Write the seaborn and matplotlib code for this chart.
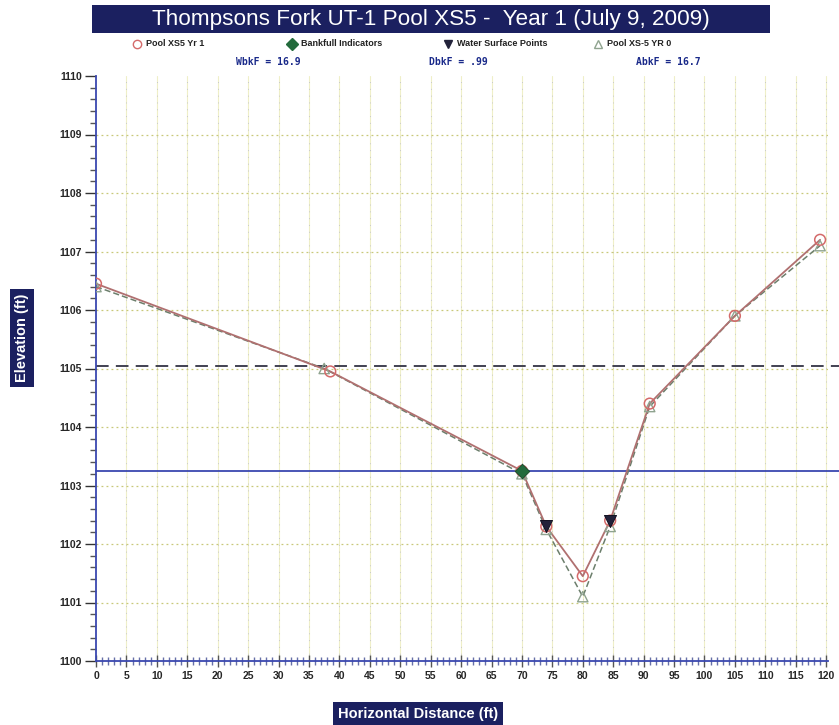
import matplotlib
matplotlib.use("Agg")
import matplotlib.pyplot as plt
from matplotlib.patches import Rectangle
from matplotlib.lines import Line2D
from matplotlib.ticker import MultipleLocator
import seaborn as sns
import pandas as pd

# ---- data ----
x_yr1 = [0, 38.5, 70, 74, 80, 84.5, 91, 105, 119]
z_yr1 = [1106.45, 1104.95, 1103.25, 1102.3, 1101.45, 1102.4, 1104.4, 1105.9, 1107.2]
x_yr0 = [0, 37.5, 70, 74, 80, 84.5, 91, 105, 119]
z_yr0 = [1106.4, 1105.0, 1103.2, 1102.25, 1101.1, 1102.3, 1104.35, 1105.9, 1107.1]
bankfull_x = [70]
bankfull_z = [1103.25]
ws_x = [74, 84.5]
ws_z = [1102.3, 1102.4]
bankfull_elev = 1103.25
floodprone_elev = 1105.05

title = "Thompsons Fork UT-1 Pool XS5 -  Year 1 (July 9, 2009)"
legend_labels = ["Pool XS5 Yr 1", "Bankfull Indicators", "Water Surface Points", "Pool XS-5 YR 0"]
stats = ["WbkF = 16.9", "DbkF = .99", "AbkF = 16.7"]
xlabel = "Horizontal Distance (ft)"
ylabel = "Elevation (ft)"

df1 = pd.DataFrame({"x": x_yr1, "z": z_yr1})
df0 = pd.DataFrame({"x": x_yr0, "z": z_yr0})
dfb = pd.DataFrame({"x": bankfull_x, "z": bankfull_z})
dfw = pd.DataFrame({"x": ws_x, "z": ws_z})

sns.set_style("white")
plt.rcParams["font.family"] = ["Liberation Sans", "DejaVu Sans"]

navy = "#1b2060"
red = "#d46a6a"
red_line = "#b07070"
gray0 = "#8fa38f"

fig = plt.figure(figsize=(8.39, 7.25), dpi=100)
ax = fig.add_axes([96/839, 1-661/725, (828-96)/839, (661-76)/725])

# grid
for xv in range(5, 121, 5):
    ax.axvline(xv, color="#efefc8", lw=0.8, zorder=0)
    ax.axvline(xv, color="#c8c8c8", lw=0.7, ls=(0, (1, 6)), zorder=0)
for yv in range(1101, 1110):
    ax.axhline(yv, color="#c8c878", lw=0.9, ls=(0, (1.5, 2.5)), zorder=0)

# reference lines
ax.axhline(floodprone_elev, xmin=0, xmax=1.02, color="#333344", lw=1.3, ls=(0, (7, 4)), clip_on=False, zorder=2)
ax.axhline(bankfull_elev, xmin=0, xmax=1.02, color="#3a48b0", lw=1.3, clip_on=False, zorder=2)

# series
sns.lineplot(data=df0, x="x", y="z", ax=ax, color="#6c7f6c", lw=1.1, ls=(0, (4, 2)), sort=False, zorder=3)
sns.lineplot(data=df1, x="x", y="z", ax=ax, color=red_line, lw=1.3, sort=False, zorder=4)
sns.scatterplot(data=df0, x="x", y="z", ax=ax, marker="^", s=55, facecolor="none",
                edgecolor=gray0, linewidth=1.0, zorder=5)
sns.scatterplot(data=df1, x="x", y="z", ax=ax, marker="o", s=60, facecolor="none",
                edgecolor=red, linewidth=1.1, zorder=6)
sns.scatterplot(data=dfb, x="x", y="z", ax=ax, marker="D", s=55, color="#236b3c",
                edgecolor="#1a4a2a", zorder=7)
sns.scatterplot(data=dfw, x="x", y="z", ax=ax, marker="v", s=75, color="#22223a",
                edgecolor="#111122", zorder=7)

ax.set_xlim(0, 120.3)
ax.set_ylim(1100, 1110)
ax.xaxis.set_major_locator(MultipleLocator(5))
ax.xaxis.set_minor_locator(MultipleLocator(1))
ax.yaxis.set_major_locator(MultipleLocator(1))
ax.yaxis.set_minor_locator(MultipleLocator(0.2))
ax.set_xlabel("")
ax.set_ylabel("")
for s in ["top", "right"]:
    ax.spines[s].set_visible(False)
for s in ["left", "bottom"]:
    ax.spines[s].set_color("#3a48b0")
    ax.spines[s].set_linewidth(1.3)
ax.tick_params(which="both", bottom=True, left=True, top=False, right=False)
ax.tick_params(axis="y", which="major", direction="out", length=8, width=1, color="#333",
               labelsize=7.5, pad=2)
ax.tick_params(axis="y", which="minor", direction="out", length=4, width=1, color="#555")
ax.tick_params(axis="x", which="major", direction="inout", length=9, width=1, color="#555",
               labelsize=7.5, pad=3)
ax.tick_params(axis="x", which="minor", direction="inout", length=6, width=1, color="#6670a8")
for lab in ax.get_xticklabels() + ax.get_yticklabels():
    lab.set_fontweight("bold")

# title box
fig.patches.append(Rectangle((92/839, 1-33/725), (770-92)/839, 28/725, transform=fig.transFigure,
                             facecolor=navy, edgecolor="none"))
fig.text(431/839, 1-19/725, title, color="white", fontsize=16.2, ha="center", va="center")

# legend row
leg_x = [137, 292, 448, 598]
leg_m = [dict(marker="o", mfc="none", mec=red), dict(marker="D", mfc="#236b3c", mec="#236b3c"),
         dict(marker="v", mfc="#22223a", mec="#22223a"), dict(marker="^", mfc="none", mec=gray0)]
for xp, lab, mk in zip(leg_x, legend_labels, leg_m):
    fig.lines.append(Line2D([xp/839], [1-44/725], transform=fig.transFigure, ms=6, ls="none", **mk))
    fig.text((xp+9)/839, 1-44/725, lab, fontsize=6.5, fontweight="bold", ha="left", va="center",
             color="#222")

# stats row
for xc, st in zip([268, 458, 668], stats):
    fig.text(xc/839, 1-62/725, st, fontsize=7, fontweight="bold", family="DejaVu Sans Mono",
             color="#1a2a8a", ha="center", va="center")

# axis label boxes
fig.text(418/839, 1-714/725, xlabel, color="white", fontsize=10.5, fontweight="bold",
         ha="center", va="center",
         bbox=dict(boxstyle="square,pad=0.35", facecolor=navy, edgecolor="none"))
fig.text(22/839, 1-338/725, ylabel, color="white", fontsize=10.5, fontweight="bold",
         ha="center", va="center", rotation=90,
         bbox=dict(boxstyle="square,pad=0.35", facecolor=navy, edgecolor="none"))

fig.savefig("out.png", dpi=100)
